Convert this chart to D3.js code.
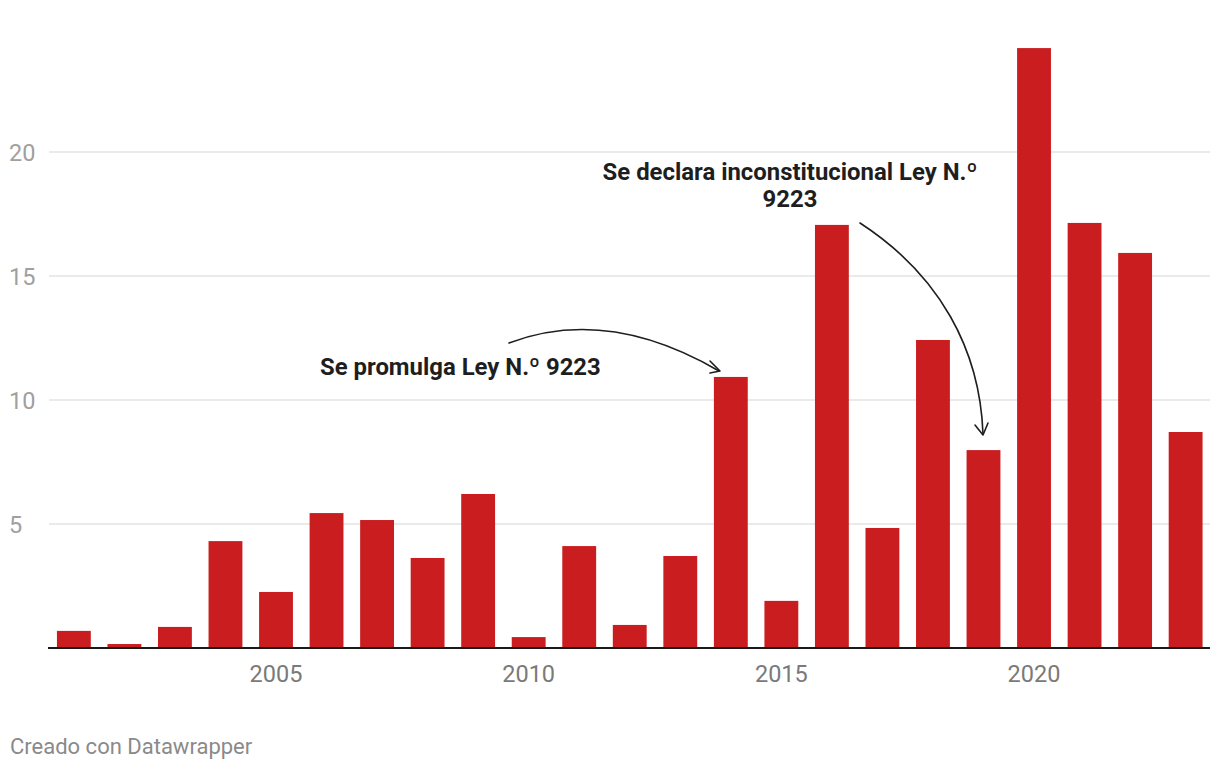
<!DOCTYPE html>
<html><head><meta charset="utf-8">
<script src="https://cdn.jsdelivr.net/npm/d3@7"></script>
<style>body{margin:0;background:#fff;font-family:Roboto,sans-serif}</style>
</head><body><svg id="c" width="1220" height="770"></svg>
<script>
const years = [2001,2002,2003,2004,2005,2006,2007,2008,2009,2010,2011,2012,2013,2014,2015,2016,2017,2018,2019,2020,2021,2022,2023];
const values = [0.69,0.16,0.85,4.31,2.26,5.44,5.16,3.63,6.21,0.44,4.11,0.93,3.71,10.93,1.90,17.06,4.84,12.42,7.98,24.19,17.14,15.93,8.71];
const yTicks = [5,10,15,20];
const xTickYears = [2005,2010,2015,2020];

const svg = d3.select("#c");
const x = d3.scaleBand().domain(years).range([48.6,1210.9]).paddingInner(0.33).paddingOuter(0.165);
const y = d3.scaleLinear().domain([0,20]).range([648,152]);

// gridlines
svg.append("g").selectAll("line").data(yTicks).join("line")
  .attr("x1",49).attr("x2",1210).attr("y1",d=>y(d)).attr("y2",d=>y(d))
  .attr("stroke","#e3e3e3").attr("stroke-width",1.5);
svg.append("g").selectAll("text").data(yTicks).join("text")
  .attr("x",9).attr("y",d=>y(d)+8.5).text(d=>d)
  .attr("font-size",23.5).attr("fill","#a0a0a0");

// bars
svg.append("g").selectAll("rect").data(years).join("rect")
  .attr("x",d=>x(d)).attr("width",x.bandwidth())
  .attr("y",(d,i)=>y(values[i])).attr("height",(d,i)=>y(0)-y(values[i]))
  .attr("fill","#c91d1f");

// baseline
svg.append("line").attr("x1",48).attr("x2",1210).attr("y1",y(0)).attr("y2",y(0))
  .attr("stroke","#1a1a1a").attr("stroke-width",2);

// x axis labels
svg.append("g").selectAll("text").data(xTickYears).join("text")
  .attr("x",d=>x(d)+x.bandwidth()/2).attr("y",682).attr("text-anchor","middle")
  .text(d=>d).attr("font-size",23.5).attr("fill","#7a7a7a");

// annotations
const ann = svg.append("g").attr("font-weight","bold").attr("font-size",23.9).attr("fill","#1e1e1e");
ann.append("text").attr("x",320).attr("y",375).text("Se promulga Ley N.º 9223");
ann.append("text").attr("x",790).attr("y",180).attr("text-anchor","middle").text("Se declara inconstitucional Ley N.º");
ann.append("text").attr("x",790).attr("y",207).attr("text-anchor","middle").text("9223");

const arr = svg.append("g").attr("fill","none").attr("stroke","#1e1e1e").attr("stroke-width",1.6).attr("stroke-linecap","round").attr("stroke-linejoin","round");
arr.append("path").attr("d","M509,343 C570,320 640,325 719,371");
arr.append("path").attr("d","M710,361 L720,371 L710,373");
arr.append("path").attr("d","M860,223 C940,275 980,350 983,434");
arr.append("path").attr("d","M975,425 L983,435 L988,423");

svg.append("text").attr("x",10).attr("y",754).text("Creado con Datawrapper")
  .attr("font-size",22).attr("fill","#8a8a8a");
</script></body></html>
